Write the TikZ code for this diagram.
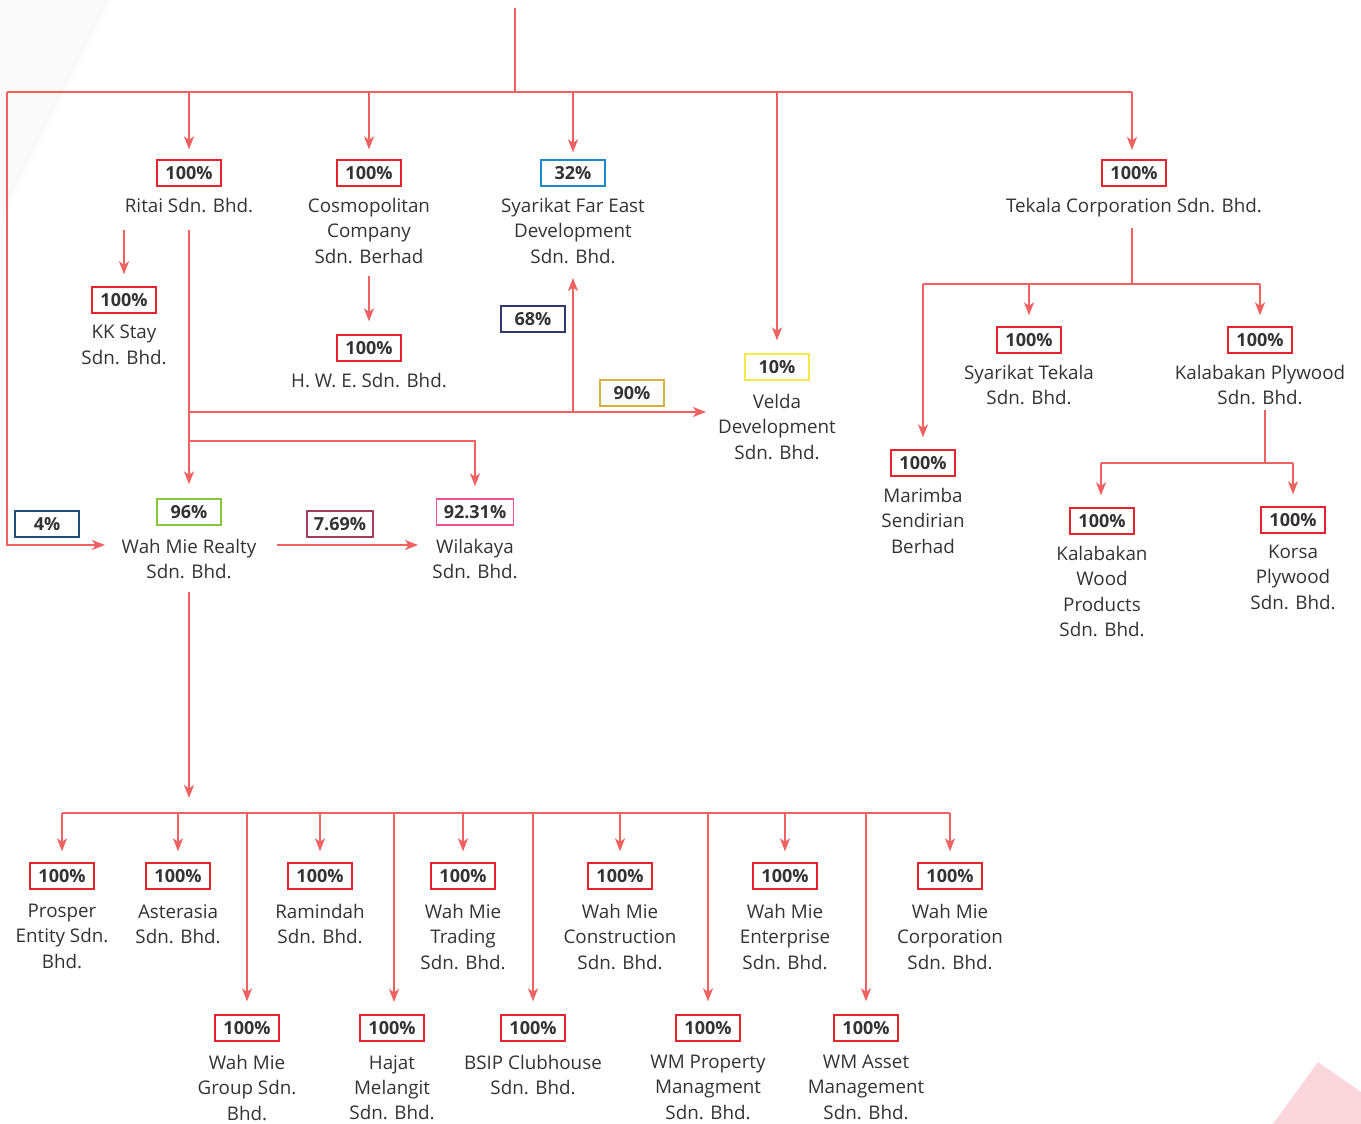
\documentclass[tikz,border=0pt]{standalone}
\usepackage{fontspec}
\setmainfont{Open Sans}
\usetikzlibrary{arrows.meta}
\definecolor{lc}{HTML}{EF6262}
\definecolor{cred}{HTML}{E32530}
\definecolor{cblue}{HTML}{1E88C8}
\definecolor{cnavy}{HTML}{2E3A6B}
\definecolor{cgold}{HTML}{D2B23A}
\definecolor{cyel}{HTML}{F7E84A}
\definecolor{cgreen}{HTML}{8CC63F}
\definecolor{cdblue}{HTML}{1F4E7A}
\definecolor{cmaroon}{HTML}{A2405E}
\definecolor{cpink}{HTML}{F0508C}
\definecolor{txt}{HTML}{333333}
\definecolor{bgpink}{HTML}{FBD6DD}
\definecolor{bggray}{HTML}{F9F9FA}
\tikzset{
  conn/.style={draw=lc, line width=1.6pt},
  arr/.style={conn, -{Stealth[length=13pt,width=10pt,inset=3.5pt]}},
  pct/.style={draw=#1, line width=1.3pt, fill=white, font=\bfseries\fontsize{18}{20}\selectfont,
    text=txt, minimum width=64pt, minimum height=26pt, inner xsep=7pt, inner ysep=2pt},
  lbl/.style={font=\fontsize{18.8}{25.3}\selectfont, text=txt, align=center, anchor=north, inner sep=0pt},
}
\newcommand\co[7]{%
  \node[pct=#4] (p#1) at (#2,#3) {#5};
  \node[lbl] (t#1) at (#2,#6-7) {#7};}
\begin{document}
\begin{tikzpicture}[x=1pt,y=-1pt]
\useasboundingbox (0,0) rectangle (1361,1124);
\fill[white] (0,0) rectangle (1361,1124);
\fill[bggray] (0,0) -- (110,0) -- (0,220) -- cycle;
\fill[bgpink] (1318,1062) -- (1361,1092) -- (1361,1124) -- (1273,1124) -- cycle;

% ---- nodes
\co{Ritai}{189}{173}{cred}{100\%}{205}{Ritai Sdn. Bhd.}
\co{Cosmo}{369}{173}{cred}{100\%}{205}{Cosmopolitan\\Company\\Sdn. Berhad}
\co{FarEast}{573}{173}{cblue}{32\%}{205}{Syarikat Far East\\Development\\Sdn. Bhd.}
\co{Tekala}{1134}{173}{cred}{100\%}{205}{Tekala Corporation Sdn. Bhd.}
\co{KK}{124}{300}{cred}{100\%}{332}{KK Stay\\Sdn. Bhd.}
\co{HWE}{369}{348}{cred}{100\%}{380}{H. W. E. Sdn. Bhd.}
\co{Velda}{777}{367}{cyel}{10\%}{401}{Velda\\Development\\Sdn. Bhd.}
\co{WMR}{189}{512}{cgreen}{96\%}{546}{Wah Mie Realty\\Sdn. Bhd.}
\co{Wil}{475}{512}{cpink}{92.31\%}{546}{Wilakaya\\Sdn. Bhd.}
\node[pct=cnavy] (p68) at (533,319) {68\%};
\node[pct=cgold] (p90) at (632,393) {90\%};
\node[pct=cdblue] (p4) at (47,524) {4\%};
\node[pct=cmaroon] (p769) at (340,524) {7.69\%};

\co{STek}{1029}{340}{cred}{100\%}{372}{Syarikat Tekala\\Sdn. Bhd.}
\co{KP}{1260}{340}{cred}{100\%}{372}{Kalabakan Plywood\\Sdn. Bhd.}
\co{Mar}{923}{463}{cred}{100\%}{495}{Marimba\\Sendirian\\Berhad}
\co{KW}{1102}{521}{cred}{100\%}{553}{Kalabakan\\Wood\\Products\\Sdn. Bhd.}
\co{Korsa}{1293}{520}{cred}{100\%}{552}{Korsa\\Plywood\\Sdn. Bhd.}

\co{Pros}{62}{876}{cred}{100\%}{911}{Prosper\\Entity Sdn.\\Bhd.}
\co{Ast}{178}{876}{cred}{100\%}{911}{Asterasia\\Sdn. Bhd.}
\co{Ram}{320}{876}{cred}{100\%}{911}{Ramindah\\Sdn. Bhd.}
\co{Trad}{463}{876}{cred}{100\%}{911}{Wah Mie\\Trading\\Sdn. Bhd.}
\co{Cons}{620}{876}{cred}{100\%}{911}{Wah Mie\\Construction\\Sdn. Bhd.}
\co{Ent}{785}{876}{cred}{100\%}{911}{Wah Mie\\Enterprise\\Sdn. Bhd.}
\co{Corp}{950}{876}{cred}{100\%}{911}{Wah Mie\\Corporation\\Sdn. Bhd.}
\co{Grp}{247}{1028}{cred}{100\%}{1062}{Wah Mie\\Group Sdn.\\Bhd.}
\co{Haj}{392}{1028}{cred}{100\%}{1062}{Hajat\\Melangit\\Sdn. Bhd.}
\co{BSIP}{533}{1028}{cred}{100\%}{1062}{BSIP Clubhouse\\Sdn. Bhd.}
\co{WMP}{708}{1028}{cred}{100\%}{1062}{WM Property\\Managment\\Sdn. Bhd.}
\co{WMA}{866}{1028}{cred}{100\%}{1062}{WM Asset\\Management\\Sdn. Bhd.}

% ---- coordinates
\coordinate (c0) at (515,8);
\coordinate (c1) at (515,92);
\coordinate (bL) at (7,92);
\coordinate (bR) at (1132,92);
\coordinate (aWMR) at (105,545);
\coordinate (kk0) at (124,230);
\coordinate (r0) at (189,230);
\coordinate (h0) at (369,276);
\coordinate (v0) at (189,412);
\coordinate (vEnd) at (706,412);
\coordinate (fe0) at (573,412);
\coordinate (fe1) at (573,278);
\coordinate (w0) at (189,441);
\coordinate (s0) at (277,545);
\coordinate (s1) at (418,545);
\coordinate (m0) at (189,592);
\coordinate (m1) at (189,798);
\coordinate (mb) at (189,813);
\coordinate (mbL) at (62,813);
\coordinate (mbR) at (950,813);
\coordinate (tk0) at (1132,228);
\coordinate (tk1) at (1132,284);
\coordinate (tkL) at (923,284);
\coordinate (tkR) at (1260,284);
\coordinate (kp0) at (1265,410);
\coordinate (kp1) at (1265,463);
\coordinate (kpL) at (1101,463);
\coordinate (kpR) at (1293,463);

% ---- connectors
\draw[conn] (c0) -- (c1);
\draw[conn] (bL) -- (bR);
\draw[arr] (bL) |- (aWMR);
\draw[arr, shorten >=10pt] (pRitai.north |- bL) -- (pRitai.north);
\draw[arr, shorten >=10pt] (pCosmo.north |- bL) -- (pCosmo.north);
\draw[arr, shorten >=7pt] (pFarEast.north |- bL) -- (pFarEast.north);
\draw[arr, shorten >=13pt] (pVelda.north |- bL) -- (pVelda.north);
\draw[arr] (bR) -- (1132,150);

\draw[arr, shorten >=12pt] (kk0) -- (pKK.north);
\draw[arr, shorten >=14pt] (r0) -- (pWMR.north);
\draw[arr, shorten >=13pt] (h0) -- (pHWE.north);
\draw[arr] (v0) -- (vEnd);
\draw[arr] (fe0) -- (fe1);
\draw[arr, shorten >=12pt] (w0) -| (pWil.north);
\draw[arr] (s0) -- (s1);
\draw[arr] (m0) -- (m1);
\draw[conn] (mbL) -- (mbR);
\foreach \n in {Pros,Ast,Ram,Trad,Cons,Ent,Corp}
  \draw[arr, shorten >=11pt] (p\n.north |- mb) -- (p\n.north);
\draw[arr, shorten >=13pt] (pGrp.north |- mb) -- (pGrp.north);
\draw[arr, shorten >=13pt] (394,813) -- (394,1015);
\draw[arr, shorten >=13pt] (pBSIP.north |- mb) -- (pBSIP.north);
\draw[arr, shorten >=13pt] (pWMP.north |- mb) -- (pWMP.north);
\draw[arr, shorten >=13pt] (pWMA.north |- mb) -- (pWMA.north);

\draw[conn] (tk0) -- (tk1);
\draw[conn] (tkL) -- (tkR);
\draw[arr, shorten >=12pt] (tkL) -- (pMar.north);
\draw[arr, shorten >=11pt] (pSTek.north |- tkL) -- (pSTek.north);
\draw[arr, shorten >=11pt] (tkR) -- (pKP.north);
\draw[conn] (kp0) -- (kp1);
\draw[conn] (kpL) -- (kpR);
\draw[arr, shorten >=12pt] (kpL) -- (kpL |- pKW.north);
\draw[arr, shorten >=12pt] (kpR) -- (pKorsa.north);
\end{tikzpicture}
\end{document}
